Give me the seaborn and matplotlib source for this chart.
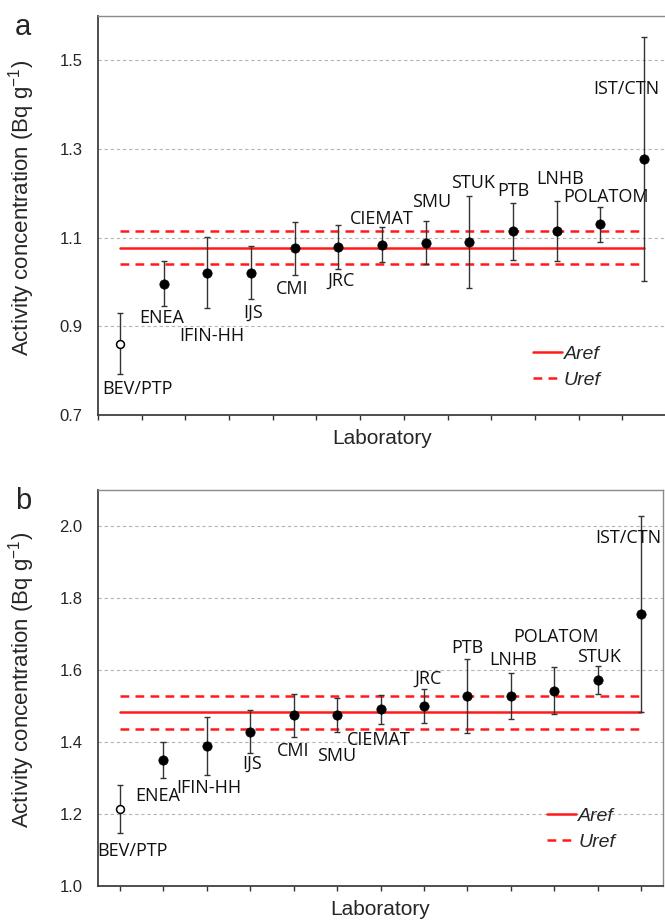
import numpy as np
import pandas as pd
import matplotlib
matplotlib.use("Agg")
import matplotlib.pyplot as plt
from matplotlib.lines import Line2D
import seaborn as sns

# ---------------- data ----------------
labs_a = ["BEV/PTP", "ENEA", "IFIN-HH", "IJS", "CMI", "JRC", "CIEMAT", "SMU",
          "STUK", "PTB", "LNHB", "POLATOM", "IST/CTN"]
vals_a = [0.861, 0.996, 1.021, 1.021, 1.076, 1.079, 1.084, 1.089,
          1.091, 1.114, 1.115, 1.130, 1.277]
unc_a = [0.068, 0.051, 0.080, 0.060, 0.060, 0.049, 0.040, 0.048,
         0.104, 0.064, 0.067, 0.040, 0.275]
filled_a = [False] + [True] * 12
aref_a = 1.077
uref_a = 0.037

labs_b = ["BEV/PTP", "ENEA", "IFIN-HH", "IJS", "CMI", "SMU", "CIEMAT", "JRC",
          "PTB", "LNHB", "POLATOM", "STUK", "IST/CTN"]
vals_b = [1.213, 1.349, 1.389, 1.429, 1.474, 1.475, 1.491, 1.501,
          1.527, 1.528, 1.543, 1.572, 1.755]
unc_b = [0.067, 0.050, 0.080, 0.060, 0.060, 0.048, 0.040, 0.047,
         0.103, 0.064, 0.065, 0.039, 0.273]
filled_b = [False] + [True] * 12
aref_b = 1.482
uref_b = 0.045

yticks_a = [0.7, 0.9, 1.1, 1.3, 1.5]
yticks_b = [1.0, 1.2, 1.4, 1.6, 1.8, 2.0]

# label offsets (pixels) relative to each point - layout only
offs_a = [(18, -45), (-2, -34), (5, -63), (2, -40), (-2, -41), (3, -34), (0, 26),
          (6, 41), (4, 59), (0, 40), (3, 52), (6, 27), (-18, 70)]
offs_b = [(13, -42), (-6, -36), (2, -42), (2, -32), (0, -36), (0, -41), (-2, -31),
          (4, 27), (0, 48), (2, 36), (2, 54), (1, 23), (-13, 76)]

# ---------------- style ----------------
sns.set_style("white")
plt.rcParams["font.family"] = ["Liberation Sans", "DejaVu Sans"]
plt.rcParams["mathtext.default"] = "regular"

W, H = 665, 924
fig = plt.figure(figsize=(W / 100, H / 100), dpi=100)

def px_axes(l, t, r, b):
    return [l / W, 1 - b / H, (r - l) / W, (b - t) / H]

ax_a = fig.add_axes(px_axes(98, 16, 666, 415))
ax_b = fig.add_axes(px_axes(98, 490, 663, 886))


def draw(ax, labs, vals, unc, filled, aref, uref, yticks, ylim, offs, xt_boundary, leg_anchor):
    x = np.arange(len(labs))
    df = pd.DataFrame({"x": x, "y": vals, "u": unc, "filled": filled, "lab": labs})
    # grid
    for yt in yticks[1:]:
        ax.axhline(yt, color="#b4b4b4", lw=0.8, ls=(0, (3, 2.5)), zorder=0)
    # reference lines
    ax.plot([x[0], x[-1]], [aref, aref], color="#ff1a1a", lw=1.8, zorder=2)
    for s in (-1, 1):
        ax.plot([x[0], x[-1]], [aref + s * uref] * 2, color="#ff1a1a", lw=1.8,
                ls=(0, (3.5, 2.5)), zorder=2)
    # error bars
    ax.errorbar(df["x"], df["y"], yerr=df["u"], fmt="none", ecolor="#333333",
                elinewidth=1.0, capsize=2.5, capthick=1.0, zorder=3)
    d1 = df[df["filled"]]
    d0 = df[~df["filled"]]
    sns.scatterplot(data=d1, x="x", y="y", ax=ax, color="black", s=45,
                    edgecolor="black", linewidth=0.5, zorder=4, legend=False)
    sns.scatterplot(data=d0, x="x", y="y", ax=ax, color="white", s=32,
                    edgecolor="black", linewidth=1.1, zorder=4, legend=False)
    for (xi, yi, lab), (dx, dy) in zip(zip(x, vals, labs), offs):
        ax.annotate(lab, (xi, yi), xytext=(dx, dy), textcoords="offset pixels",
                    ha="center", va="center", fontsize=13,
                    family=["Open Sans", "DejaVu Sans"], color="#111111", zorder=5)
    ax.set_xlim(-0.5, len(labs) - 0.5)
    ax.set_ylim(*ylim)
    if xt_boundary:
        ax.set_xticks(np.arange(len(labs) + 1) - 0.5)
    else:
        ax.set_xticks(x)
    ax.set_xticklabels([])
    ax.set_yticks(yticks)
    ax.set_yticklabels([f"{t:.1f}" for t in yticks], fontsize=12)
    ax.tick_params(axis="y", length=0, pad=11)
    ax.tick_params(axis="x", length=3.5, width=1.0, color="#333333", direction="out", bottom=True)
    for s in ("left", "bottom"):
        ax.spines[s].set_color("#404040")
        ax.spines[s].set_linewidth(1.3)
    for s in ("top", "right"):
        ax.spines[s].set_color("#8a8a8a")
        ax.spines[s].set_linewidth(1.0)
    ax.set_xlabel("Laboratory", fontsize=15, labelpad=3)
    ax.set_ylabel("Activity concentration (Bq g$^{-1}$)", fontsize=16)
    ax.yaxis.set_label_coords(-0.108, 0.52)
    handles = [Line2D([], [], color="#ff1a1a", lw=1.8),
               Line2D([], [], color="#ff1a1a", lw=1.8, ls=(0, (3.5, 2.5)))]
    ax.legend(handles, ["Aref", "Uref"], loc="lower left", bbox_to_anchor=leg_anchor,
              frameon=False, prop={"style": "italic", "size": 14}, handlelength=1.5,
              handletextpad=0.1, labelspacing=0.45, borderpad=0, borderaxespad=0)


draw(ax_a, labs_a, vals_a, unc_a, filled_a, aref_a, uref_a, yticks_a, (0.7, 1.6),
     offs_a, True, (0.765, 0.065))
draw(ax_b, labs_b, vals_b, unc_b, filled_b, aref_b, uref_b, yticks_b, (1.0, 2.1),
     offs_b, False, (0.795, 0.088))

fig.text(23 / W, 1 - 27 / H, "a", fontsize=21, ha="center", va="center")
fig.text(23 / W, 1 - 501 / H, "b", fontsize=21, ha="center", va="center")

fig.savefig("out.png", dpi=100)
